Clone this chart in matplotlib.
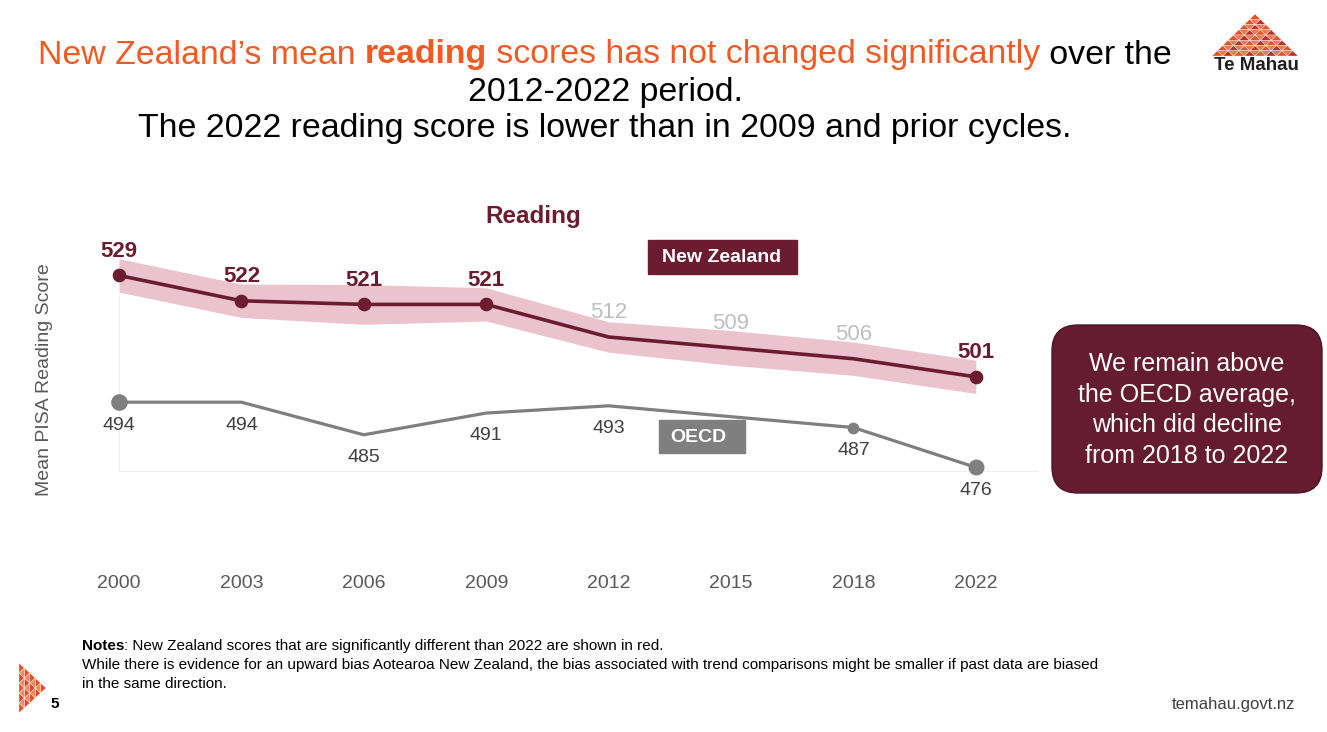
import matplotlib
matplotlib.use('Agg')
import matplotlib.pyplot as plt
import matplotlib.transforms as mtransforms
from matplotlib.patches import FancyBboxPatch, Rectangle, Polygon
import numpy as np

plt.rcParams['font.family'] = ['Liberation Sans', 'DejaVu Sans']

# ---------------- data ----------------
years = ['2000', '2003', '2006', '2009', '2012', '2015', '2018', '2022']
nz_scores = [529, 522, 521, 521, 512, 509, 506, 501]
nz_ci = [4.6, 4.6, 5.5, 4.6, 4.2, 4.8, 4.6, 4.6]
nz_different_from_2022 = [True, True, True, True, False, False, False, False]
nz_is_reference = [False, False, False, False, False, False, False, True]
oecd_scores = [494, 494, 485, 491, 493, 490, 487, 476]
oecd_marked = [True, False, False, False, False, False, True, True]

title_line1 = [("New Zealand\u2019s mean ", 'orange', 'normal'),
               ("reading", 'orange', 'bold'),
               (" scores has not changed significantly", 'orange', 'normal'),
               (" over the", 'black', 'normal')]
title_line2 = "2012-2022 period."
title_line3 = "The 2022 reading score is lower than in 2009 and prior cycles."
callout = "We remain above\nthe OECD average,\nwhich did decline\nfrom 2018 to 2022"
notes_1 = ": New Zealand scores that are significantly different than 2022 are shown in red."
notes_2 = ("While there is evidence for an upward bias Aotearoa New Zealand, the bias associated "
           "with trend comparisons might be smaller if past data are biased")
notes_3 = "in the same direction."

# ---------------- style ----------------
W, H = 1327, 732
NZ = '#6B1D2F'
BAND = '#EBC3CD'
OECD = '#7F7F7F'
ORANGE = '#F15A22'
DARK = '#404040'
GREY_TXT = '#595959'

fig = plt.figure(figsize=(W / 100, H / 100), dpi=100)
fig.patch.set_facecolor('white')


def fx(x):
    return x / W


def fy(y):
    return 1 - y / H


# ---------------- chart axes ----------------
ax = fig.add_axes([fx(119), fy(471), (1037 - 119) / W, (471 - 295) / H])
x = np.arange(len(years))
ax.set_xlim(0, 7.5)
ax.set_ylim(475.0, 523.6)
for s in ['top', 'right']:
    ax.spines[s].set_visible(False)
for s in ['left', 'bottom']:
    ax.spines[s].set_color('#EFEFEF')
    ax.spines[s].set_linewidth(0.8)
ax.set_xticks([])
ax.set_yticks([])

lower = [v - c for v, c in zip(nz_scores, nz_ci)]
upper = [v + c for v, c in zip(nz_scores, nz_ci)]
ax.fill_between(x, lower, upper, color=BAND, lw=0, zorder=1, clip_on=False)
ax.plot(x, nz_scores, color=NZ, lw=2.6, zorder=3, clip_on=False, solid_capstyle='round')
mk = [i for i in range(len(years)) if nz_different_from_2022[i] or nz_is_reference[i]]
ax.scatter([x[i] for i in mk], [nz_scores[i] for i in mk], s=78, color=NZ, zorder=4, clip_on=False)

ax.plot(x, oecd_scores, color=OECD, lw=2.3, zorder=2, clip_on=False)
oecd_sizes = {0: 120, 6: 55, 7: 110}
for i in range(len(years)):
    if oecd_marked[i]:
        ax.scatter([x[i]], [oecd_scores[i]], s=oecd_sizes.get(i, 80), color=OECD, zorder=3, clip_on=False)

for i, v in enumerate(nz_scores):
    strong = nz_different_from_2022[i] or nz_is_reference[i]
    ax.annotate(str(v), (x[i], v), xytext=(0, 17.5), textcoords='offset points',
                ha='center', va='center', fontsize=16,
                fontweight='bold' if strong else 'normal',
                color=NZ if strong else '#BFBFBF', zorder=5, annotation_clip=False)

for i, v in enumerate(oecd_scores):
    ax.annotate(str(v), (x[i], v), xytext=(0, -16.5), textcoords='offset points',
                ha='center', va='center', fontsize=14,
                color='#1F3864' if i == 5 else DARK, zorder=5, annotation_clip=False)

blend = mtransforms.blended_transform_factory(ax.transData, fig.transFigure)
for i, yr in enumerate(years):
    ax.text(x[i], fy(583), yr, transform=blend, ha='center', va='center',
            fontsize=14, color=GREY_TXT, clip_on=False)

# ---------------- overlay (pixel coords) ----------------
ov = fig.add_axes([0, 0, 1, 1])
ov.set_xlim(0, W)
ov.set_ylim(H, 0)
ov.axis('off')

renderer = fig.canvas.get_renderer()


def rich_line(pieces, x0, cy, size, align='center'):
    ts = []
    for s, col, wt in pieces:
        c = ORANGE if col == 'orange' else ('#000000' if col == 'black' else col)
        ts.append(ov.text(0, cy, s, color=c, fontweight=wt, fontsize=size,
                          ha='left', va='center'))
    ws = [t.get_window_extent(renderer).width for t in ts]
    start = x0 - sum(ws) / 2 if align == 'center' else x0
    for t, w in zip(ts, ws):
        t.set_x(start)
        start += w


rich_line(title_line1, 605, 55, 24.4)
ov.text(605, 92, title_line2, ha='center', va='center', fontsize=24.4, color='black')
ov.text(605, 128, title_line3, ha='center', va='center', fontsize=24.4, color='black')

ov.text(533, 217, "Reading", ha='center', va='center', fontsize=17.5,
        fontweight='bold', color=NZ)

# legend boxes
ov.add_patch(Rectangle((648, 240), 149, 34, color=NZ, zorder=5))
ov.text(722, 257, "New Zealand", ha='center', va='center', fontsize=14,
        fontweight='bold', color='white', zorder=6)
ov.add_patch(Rectangle((659, 420), 86, 33, color=OECD, zorder=5))
ov.text(698, 437, "OECD", ha='center', va='center', fontsize=14,
        fontweight='bold', color='white', zorder=6)

# y label
ov.text(45, 380, "Mean PISA Reading Score", rotation=90, ha='center', va='center',
        fontsize=14, color=GREY_TXT)

# callout
ov.add_patch(FancyBboxPatch((1052, 325), 270, 168,
                            boxstyle="round,pad=0,rounding_size=26",
                            facecolor='#651C30', edgecolor='#4E1524', lw=1.0, zorder=5))
ov.text(1187, 410, callout, ha='center', va='center', fontsize=18,
        color='white', linespacing=1.34, zorder=6)

# notes
rich_line([("Notes", '#000000', 'bold'), (notes_1, '#000000', 'normal')], 82, 646, 11, align='left')
ov.text(82, 665, notes_2, ha='left', va='center', fontsize=11, color='#000000')
ov.text(82, 684, notes_3, ha='left', va='center', fontsize=11, color='#000000')

ov.text(50, 704, "5", ha='left', va='center', fontsize=11, fontweight='bold', color='#000000')
ov.text(1295, 704, "temahau.govt.nz", ha='right', va='center', fontsize=12, color=DARK)


# ---------------- logo / icon ----------------
def tri_grid(apex, base_center, halfwidth, n, up_cols, down_col):
    apex = np.array(apex, float)
    bc = np.array(base_center, float)
    axis_v = (bc - apex) / n
    perp = np.array([-axis_v[1], axis_v[0]])
    perp = perp / np.linalg.norm(perp) * (halfwidth / n)

    def P(r, s):
        return apex + r * axis_v + s * perp

    for r in range(n):
        for k in range(r + 1):
            s = -r + 2 * k
            pts = [P(r, s), P(r + 1, s - 1), P(r + 1, s + 1)]
            ov.add_patch(Polygon(pts, closed=True, facecolor=up_cols[(r + k) % len(up_cols)],
                                 edgecolor='white', lw=0.25))
        for k in range(r):
            s = -r + 2 * k
            pts = [P(r, s), P(r, s + 2), P(r + 1, s + 1)]
            ov.add_patch(Polygon(pts, closed=True, facecolor=down_col,
                                 edgecolor='white', lw=0.25))


tri_grid((1255, 14), (1255, 56), 43, 8, ['#E4502A', '#B8302A'], '#EE7A50')
ov.text(1256, 66, "Te Mahau", ha='center', va='center', fontsize=13.5,
        fontweight='bold', color='#231F20')
tri_grid((46, 688), (19, 688), 25, 5, ['#E4502A', '#D9482B'], '#F08A62')

fig.savefig('out.png', dpi=100, facecolor='white')
